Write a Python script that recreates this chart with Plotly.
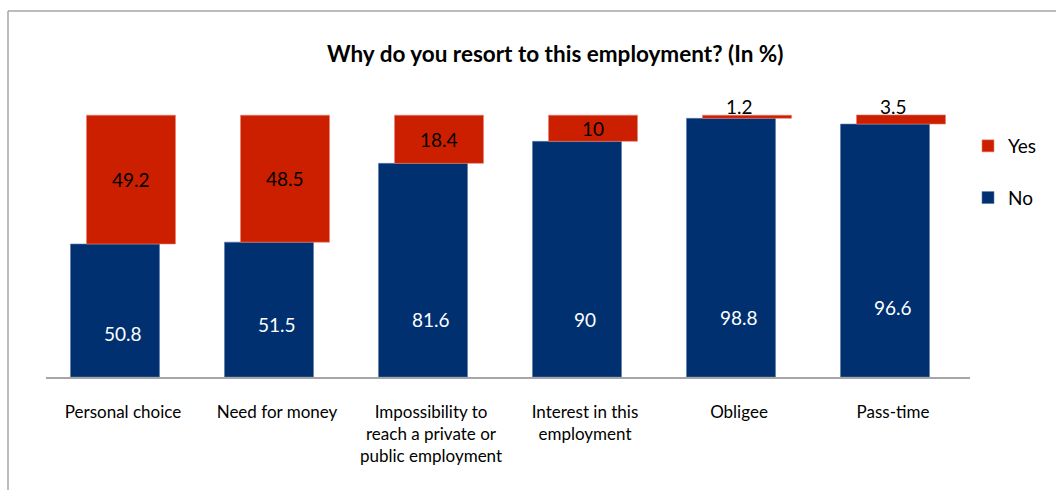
import plotly.graph_objects as go

# Survey results (in %)
categories = [
    "Personal choice",
    "Need for money",
    "Impossibility to<br>reach a private or<br>public employment",
    "Interest in this<br>employment",
    "Obligee",
    "Pass-time",
]
no_values = [50.8, 51.5, 81.6, 90, 98.8, 96.6]
yes_values = [49.2, 48.5, 18.4, 10, 1.2, 3.5]

# Heights (in axis units) at which the "No" value labels sit inside the bars
no_label_heights = [16.8, 20.2, 21.8, 21.8, 22.7, 26.4]

NAVY = "#003070"
RED = "#CC1F00"
FONT = "Lato"

W, H = 1056, 490
M_L, M_R, M_T, M_B = 46, 86, 89, 113
Y_MAX = 110
BAR_W = 0.578
SHIFT = 0.052

plot_w = W - M_L - M_R
plot_h = H - M_T - M_B


def px_to_paper_x(px):
    return (px - M_L) / plot_w


def px_to_paper_y(py):
    return (H - M_B - py) / plot_h


idx = list(range(len(categories)))

fig = go.Figure()
fig.add_trace(go.Bar(
    name="No", x=idx, y=no_values, width=BAR_W, offset=-BAR_W / 2 - SHIFT,
    marker=dict(color=NAVY, line=dict(color="#5a78a8", width=0.6)),
    legendgroup="no", legendrank=2, hoverinfo="y",
))
fig.add_trace(go.Bar(
    name="Yes", x=idx, y=yes_values, base=no_values, width=BAR_W, offset=-BAR_W / 2 + SHIFT,
    marker=dict(color=RED, line=dict(color="#e88070", width=0.6)),
    legendgroup="yes", legendrank=1, hoverinfo="y",
))

annotations = []
for i, (n, y) in enumerate(zip(no_values, yes_values)):
    annotations.append(dict(
        x=i, y=no_label_heights[i], xref="x", yref="y", text=f"{n:g}",
        showarrow=False, font=dict(family=FONT, size=19, color="white"),
    ))
    if y >= 5:
        annotations.append(dict(
            x=i + SHIFT, y=n + y / 2, xref="x", yref="y", text=f"{y:g}",
            showarrow=False, font=dict(family=FONT, size=19, color="black"),
        ))
    else:
        annotations.append(dict(
            x=i, y=n + y, xref="x", yref="y", text=f"{y:g}", yanchor="bottom",
            yshift=-5, showarrow=False, font=dict(family=FONT, size=19, color="black"),
        ))

annotations.append(dict(
    x=px_to_paper_x(555), y=px_to_paper_y(53), xref="paper", yref="paper",
    xanchor="center", yanchor="middle",
    text="<b>Why do you resort to this employment? (In %)</b>", showarrow=False,
    font=dict(family=FONT, size=22.5, color="black"),
))

# Chart frame (top and left edges)
frame_x = px_to_paper_x(8)
frame_y = px_to_paper_y(11)
shapes = [
    dict(type="line", xref="paper", yref="paper", x0=frame_x, x1=frame_x,
         y0=px_to_paper_y(H + 5), y1=frame_y, line=dict(color="#a6a6a6", width=1.5)),
    dict(type="line", xref="paper", yref="paper", x0=frame_x, x1=px_to_paper_x(W + 5),
         y0=frame_y, y1=frame_y, line=dict(color="#a6a6a6", width=1.5)),
]

fig.update_layout(
    width=W, height=H,
    margin=dict(l=M_L, r=M_R, t=M_T, b=M_B, pad=0),
    paper_bgcolor="white", plot_bgcolor="white",
    barmode="overlay",
    annotations=annotations,
    shapes=shapes,
    showlegend=True,
    legend=dict(
        x=px_to_paper_x(968), y=px_to_paper_y(127), xanchor="left", yanchor="top",
        traceorder="grouped", tracegroupgap=24,
        font=dict(family=FONT, size=19, color="black"), bgcolor="rgba(0,0,0,0)",
    ),
    xaxis=dict(
        range=[-0.5, len(categories) - 0.5], tickmode="array", tickvals=idx,
        ticktext=categories, showgrid=False, zeroline=False,
        showline=True, linecolor="#a6a6a6", linewidth=1.5,
        ticks="", ticklabelstandoff=19,
        tickfont=dict(family=FONT, size=17, color="black"),
    ),
    yaxis=dict(range=[0, Y_MAX], visible=False, showgrid=False),
)

fig.write_html("out.html")
